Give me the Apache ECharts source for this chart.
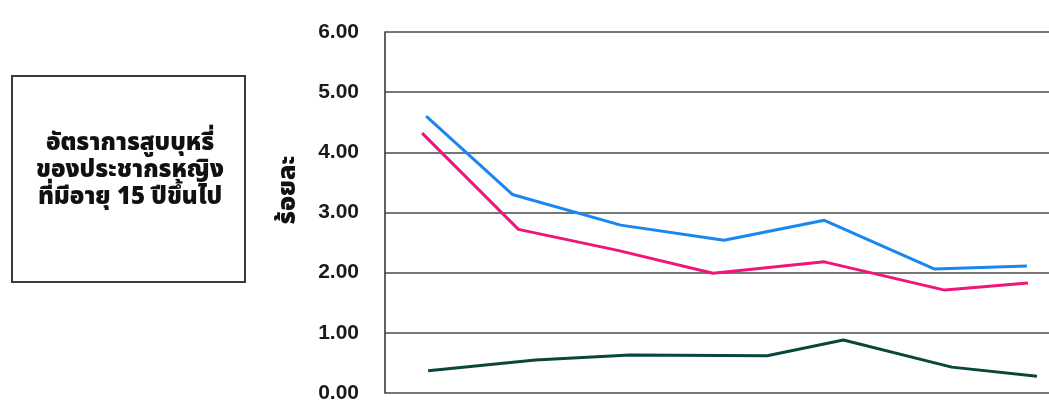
<!DOCTYPE html>
<html>
<head>
<meta charset="utf-8">
<script src="https://cdn.jsdelivr.net/npm/echarts@6/dist/echarts.min.js"></script>
<style>
  html, body { margin: 0; padding: 0; background: #ffffff; }
  #chart { width: 1049px; height: 408px; }
</style>
</head>
<body>
<div id="chart"></div>
<script>
// Smoking rate (%) among women aged 15+, three survey series over successive rounds.
// x = survey round position (0 = first round), y = percent.
const blueX  = [0.01, 0.87, 1.95, 2.98, 3.98, 5.08, 6.00];
const blueY  = [4.60, 3.30, 2.79, 2.54, 2.87, 2.06, 2.11];

const pinkX  = [-0.03, 0.93, 1.92, 2.87, 3.98, 5.18, 6.01];
const pinkY  = [4.32, 2.72, 2.37, 1.99, 2.18, 1.71, 1.83];

const greenX = [0.03, 1.10, 2.04, 3.41, 4.17, 5.25, 6.10];
const greenY = [0.37, 0.55, 0.63, 0.62, 0.88, 0.43, 0.28];

const yTicks = [0, 1, 2, 3, 4, 5, 6];
const yAxisTitle = 'ร้อยละ';
const boxLines = ['อัตราการสูบบุหรี่', 'ของประชากรหญิง', 'ที่มีอายุ 15 ปีขึ้นไป'];

const thaiFont = '"Noto Sans Thai", "Loma", "Garuda", "Norasi", "DejaVu Sans", "Liberation Sans", sans-serif';

function pairs(xs, ys) { return xs.map((x, i) => [x, ys[i]]); }

const chart = echarts.init(document.getElementById('chart'), null, { renderer: 'canvas' });

chart.setOption({
  backgroundColor: '#ffffff',
  animation: false,
  grid: { left: 385, right: 0, top: 32, bottom: 15, containLabel: false },
  xAxis: {
    type: 'value',
    min: -0.4,
    max: 6.22,
    show: false
  },
  yAxis: {
    type: 'value',
    min: yTicks[0],
    max: yTicks[yTicks.length - 1],
    interval: 1,
    axisLine: { show: true, onZero: false, lineStyle: { color: '#3a3a3a', width: 1.6 } },
    axisTick: { show: false },
    axisLabel: {
      margin: 26,
      fontFamily: '"Liberation Sans", Arial, sans-serif',
      fontWeight: 'bold',
      fontSize: 21,
      color: '#1a1a1a',
      formatter: v => v.toFixed(2)
    },
    splitLine: { show: true, lineStyle: { color: '#4a4a4a', width: 1.6 } }
  },
  graphic: [
    {
      type: 'rect',
      shape: { x: 12, y: 76, width: 233, height: 206 },
      style: { fill: '#ffffff', stroke: '#3a3a3a', lineWidth: 2 }
    },
    {
      type: 'text',
      x: 130,
      y: 172,
      style: {
        text: boxLines.join('\n'),
        align: 'center',
        verticalAlign: 'middle',
        lineHeight: 27,
        fontFamily: thaiFont,
        fontWeight: 900,
        fontSize: 24,
        fill: '#111'
      }
    },
    {
      type: 'text',
      x: 290,
      y: 190,
      rotation: Math.PI / 2,
      style: {
        text: yAxisTitle,
        align: 'center',
        verticalAlign: 'middle',
        fontFamily: thaiFont,
        fontWeight: 900,
        fontSize: 25,
        fill: '#111'
      }
    }
  ],
  series: [
    {
      name: 'blue', type: 'line', data: pairs(blueX, blueY),
      symbol: 'none', smooth: false,
      lineStyle: { color: '#1a86f0', width: 3 }, z: 3
    },
    {
      name: 'pink', type: 'line', data: pairs(pinkX, pinkY),
      symbol: 'none', smooth: false,
      lineStyle: { color: '#f0147c', width: 3 }, z: 3
    },
    {
      name: 'green', type: 'line', data: pairs(greenX, greenY),
      symbol: 'none', smooth: false,
      lineStyle: { color: '#0b463c', width: 3 }, z: 3
    }
  ]
});
</script>
</body>
</html>
